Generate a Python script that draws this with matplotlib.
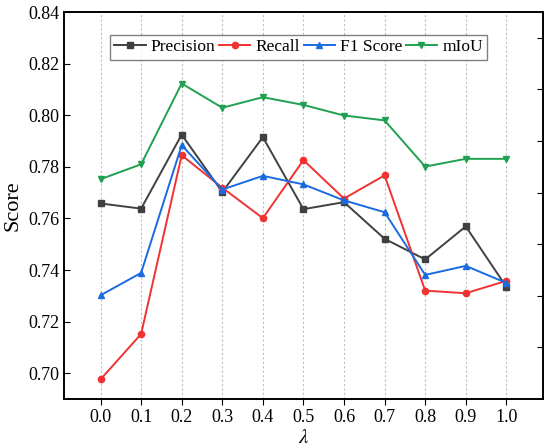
import matplotlib.pyplot as plt
from matplotlib.ticker import MultipleLocator

plt.rcParams['font.family'] = ['Liberation Serif', 'DejaVu Serif']
plt.rcParams['mathtext.fontset'] = 'stix'

# datos
lam = [0.0, 0.1, 0.2, 0.3, 0.4, 0.5, 0.6, 0.7, 0.8, 0.9, 1.0]
precision = [0.7658, 0.7638, 0.7925, 0.7702, 0.7915, 0.7636, 0.7663, 0.7521, 0.7441, 0.7569, 0.7335]
recall = [0.6976, 0.7152, 0.7845, 0.7719, 0.7601, 0.7826, 0.7677, 0.7767, 0.7320, 0.7310, 0.7358]
f1 = [0.7302, 0.7389, 0.7884, 0.7712, 0.7765, 0.7732, 0.7670, 0.7624, 0.7381, 0.7416, 0.7350]
miou = [0.7752, 0.7810, 0.8123, 0.8029, 0.8070, 0.8040, 0.7999, 0.7980, 0.7801, 0.7831, 0.7831]

fig = plt.figure(figsize=(5.5, 4.47), dpi=100)
ax = fig.add_axes([0.1164, 0.1074, 0.8706, 0.8656])

ax.plot(lam, precision, color='#404040', marker='s', markersize=4.5, lw=1.4, label='Precision')
ax.plot(lam, recall, color='#f03232', marker='o', markersize=4.5, lw=1.4, label='Recall')
ax.plot(lam, f1, color='#1a6be0', marker='^', markersize=5, lw=1.4, label='F1 Score')
ax.plot(lam, miou, color='#20a050', marker='v', markersize=5, lw=1.4, label='mIoU')

ax.set_xlim(-0.09, 1.09)
ax.set_ylim(0.69, 0.84)
ax.set_xticks(lam)
ax.set_xticklabels([f"{v:.1f}" for v in lam])
ax.yaxis.set_major_locator(MultipleLocator(0.02))
ax.set_yticklabels([f"{v:.2f}" for v in ax.get_yticks()])
ax.xaxis.grid(True, color='#c0c0c0', linestyle=(0, (2, 2)), lw=0.8)
ax.set_axisbelow(True)

ax.tick_params(axis='x', direction='out', length=4, labelsize=13)
ax.tick_params(axis='y', direction='in', length=4, labelsize=13)

# ticks del lado derecho en posiciones intermedias
ax2 = ax.twinx()
ax2.set_ylim(0.69, 0.84)
ax2.set_yticks([0.71, 0.73, 0.75, 0.77, 0.79, 0.81, 0.83])
ax2.tick_params(axis='y', direction='in', length=4, labelright=False)

for a in (ax, ax2):
    for s in a.spines.values():
        s.set_linewidth(1.2)

ax.set_xlabel(r'$\lambda$', fontsize=15, labelpad=2)
ax.set_ylabel('Score', fontsize=16)

leg = ax.legend(loc='upper center', bbox_to_anchor=(0.49, 0.95), ncol=4, fontsize=12.5,
                frameon=True, fancybox=False, edgecolor='#606060', handlelength=1.8,
                handletextpad=0.3, columnspacing=0.2, borderpad=0.25, borderaxespad=0.2)
leg.get_frame().set_linewidth(1.0)

plt.savefig('out.png', dpi=100)
